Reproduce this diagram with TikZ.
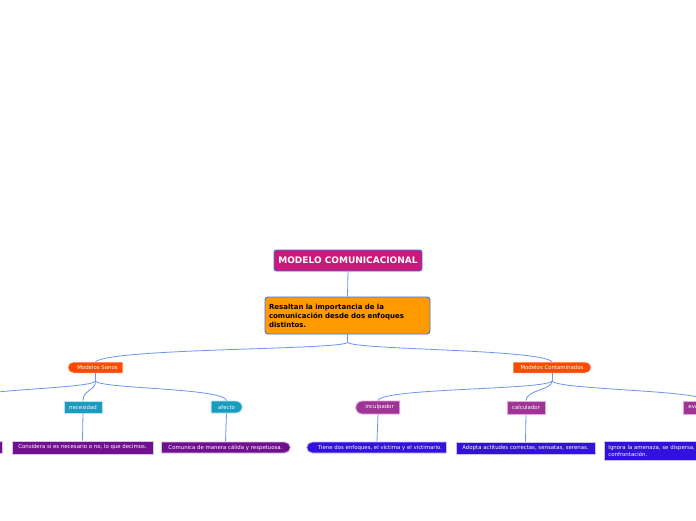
\documentclass[tikz,border=0pt]{standalone}
\usepackage{fontspec}
\setmainfont{DejaVu Sans}
\usetikzlibrary{shapes.misc}
\definecolor{titlefill}{HTML}{C91A7A}
\definecolor{bordblue}{HTML}{3B73E6}
\definecolor{orangefill}{HTML}{FF9A00}
\definecolor{redfill}{HTML}{FF4B00}
\definecolor{tealfill}{HTML}{199CC0}
\definecolor{tealbord}{HTML}{B9E3F0}
\definecolor{purpfill}{HTML}{70108F}
\definecolor{purpbord}{HTML}{D9C2EA}
\definecolor{mauvefill}{HTML}{9E3594}
\definecolor{mauvebord}{HTML}{E9A6E5}
\definecolor{bluefill}{HTML}{3210DD}
\definecolor{bluebord}{HTML}{C6C2F2}
\definecolor{conncol}{HTML}{6E95EE}
\tikzset{
  conn/.style={draw=conncol, line width=0.8pt},
  small/.style={font=\fontsize{5.4}{6.5}\selectfont, text=white, inner sep=0pt},
  titlebox/.style={fill=titlefill, draw=bordblue, line width=0.9pt, rounded corners=2.5pt,
    text=white, font=\fontsize{9}{10}\selectfont\bfseries, inner sep=0pt},
  orangebox/.style={fill=orangefill, draw=bordblue, line width=0.9pt, rounded corners=3pt,
    text=black, font=\fontsize{7}{9}\selectfont\bfseries, inner sep=0pt, align=left},
  redbox/.style={small, fill=redfill, draw=white, line width=0.5pt},
  tealbox/.style={small, fill=tealfill, draw=tealbord, line width=0.9pt},
  purpbox/.style={small, fill=purpfill, draw=purpbord, line width=0.9pt},
  mauvebox/.style={small, fill=mauvefill, draw=mauvebord, line width=0.9pt},
  bluebox/.style={small, fill=bluefill, draw=bluebord, line width=0.9pt},
  leftpill/.style={rounded rectangle, rounded rectangle right arc=none},
  rightpill/.style={rounded rectangle, rounded rectangle left arc=none},
}
\begin{document}
\begin{tikzpicture}[x=1pt, y=-1pt]
\path[use as bounding box] (0,0) rectangle (696,520);
\clip (0,0) rectangle (696,520);
\fill[white] (0,0) rectangle (696,520);

% main nodes
\node[titlebox, minimum width=148pt, minimum height=21pt] (title) at (348,260.5) {MODELO COMUNICACIONAL};
\node[orangebox, minimum width=165pt, minimum height=37pt, text width=157pt] (orng) at (347.5,315.5)
  {Resaltan la importancia de la\\comunicación desde dos enfoques\\distintos.};

\node[redbox, leftpill, minimum width=55pt, minimum height=11pt] (ms) at (95.5,367.5) {\hspace{4pt}Modelos Sanos};
\node[redbox, rightpill, minimum width=78pt, minimum height=11pt] (mc) at (552,367.5) {Modelos Contaminados};

% second level
\node[tealbox, minimum width=38pt, minimum height=12pt] (nec) at (83,407) {necesidad};
\node[tealbox, rightpill, minimum width=31pt, minimum height=12pt] (afe) at (226.5,407) {afecto};
\node[tealbox, minimum width=38pt, minimum height=12pt] (lhn) at (-47,407) {};

\node[mauvebox, leftpill, minimum width=44pt, minimum height=13pt] (inc) at (378,407.5) {\hspace{3pt}inculpador};
\node[mauvebox, minimum width=38pt, minimum height=13pt] (cal) at (526,407.5) {calculador};
\node[mauvebox, minimum width=44pt, minimum height=13pt, text width=34pt, align=left, inner xsep=5pt, anchor=west] (eva) at (683,407.5) {eva};

% leaves
\node[purpbox, minimum width=100pt, minimum height=12pt, anchor=east] (lhbox) at (3,447.5) {};
\node[purpbox, minimum width=141pt, minimum height=13pt] (cons) at (82.5,447.5) {Considera si es necesario o no, lo que decimos.};
\node[purpbox, rightpill, minimum width=129pt, minimum height=11pt] (com) at (225.5,447.5) {Comunica de manera cálida y respetuosa.};

\node[bluebox, leftpill, minimum width=140pt, minimum height=11pt] (tie) at (377,447.5) {\hspace{6pt}Tiene dos enfoques, el víctima y el victimario.};
\node[bluebox, minimum width=139pt, minimum height=12pt] (ado) at (525.5,448) {Adopta actitudes correctas, sensatas, serenas.};
\node[bluebox, anchor=north west, minimum height=19pt, text width=192pt, inner xsep=4pt, align=left, font=\fontsize{5.4}{6.8}\selectfont] (ign) at (604,441) {Ignora la amenaza, se dispersa,\\confrontación.};

% connectors
\draw[conn] (title.south) -- (orng.north);
\draw[conn] (orng.south) -- ++(0,8) coordinate (b0);
\draw[conn] (b0) .. controls (340,350) and (112,348) .. (ms.north);
\draw[conn] (b0) .. controls (356,350) and (540,349) .. (mc.north);

\draw[conn] (ms.south) -- ++(0,8) coordinate (b1);
\draw[conn] (b1) .. controls (88,389) and (-30,389) .. (lhn.north);
\draw[conn] (b1) .. controls (96,390) and (83,390) .. (nec.north);
\draw[conn] (b1) .. controls (104,389) and (224,388) .. (afe.north);

\draw[conn] (mc.south) -- ++(0,8) coordinate (b2);
\draw[conn] (b2) .. controls (542,390) and (382,388) .. (inc.north);
\draw[conn] (b2) .. controls (552,390) and (526,390) .. (cal.north);
\draw[conn] (b2) .. controls (562,390) and (700,390) .. (eva.north);

\draw[conn] (lhn.south) -- ([xshift=-50pt]lhbox.north);
\draw[conn] (nec.south) -- (cons.north);
\draw[conn] (afe.south) -- (com.north);
\draw[conn] (inc.south) -- (tie.north);
\draw[conn] (cal.south) -- (ado.north);
\draw[conn] (eva.south) -- (ign.north);
\end{tikzpicture}
\end{document}
